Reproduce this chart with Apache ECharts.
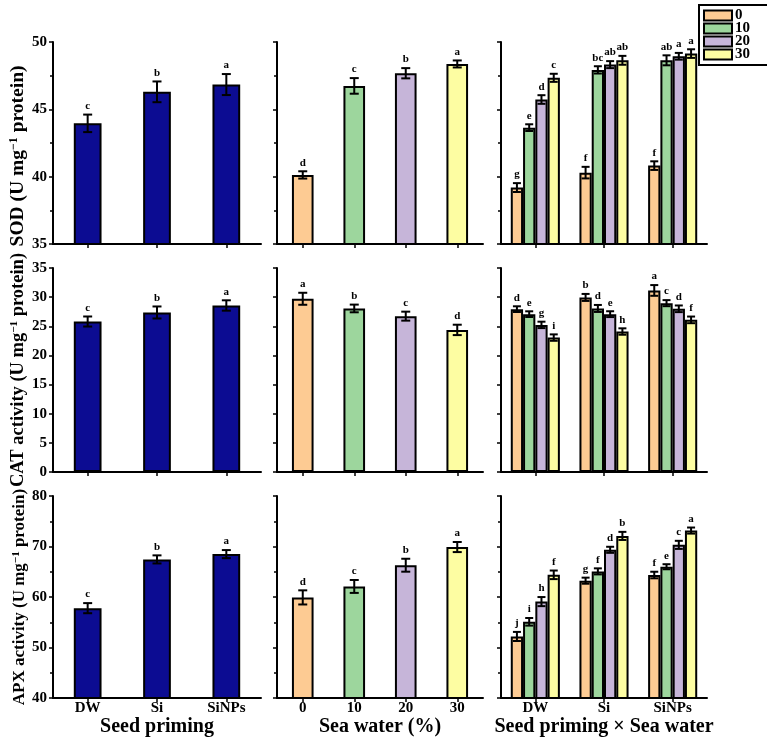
<!DOCTYPE html>
<html>
<head>
<meta charset="utf-8">
<script src="https://cdn.jsdelivr.net/npm/echarts@6/dist/echarts.min.js"></script>
<style>
  html, body { margin: 0; padding: 0; background: #fff; }
  #main { width: 767px; height: 738px; }
</style>
</head>
<body>
<div id="main"></div>
<script>
// 类别与刻度
const primingCats = ['DW', 'Si', 'SiNPs'];
const seaCats = ['0', '10', '20', '30'];

// SOD
const sodPriming = [43.96, 46.3, 46.84];
const sodPrimingErr = [0.65, 0.77, 0.78];
const sodPrimingLetters = ['c', 'b', 'a'];
const sodSea = [40.13, 46.74, 47.68, 48.37];
const sodSeaErr = [0.27, 0.58, 0.38, 0.26];
const sodSeaLetters = ['d', 'c', 'b', 'a'];
// 交互：每个海水浓度一组，依次为 DW, Si, SiNPs
const sodInter = [[39.19, 40.3, 40.82], [43.64, 47.93, 48.64], [45.73, 48.32, 48.94], [47.34, 48.64, 49.14]];
const sodInterErr = [[0.33, 0.43, 0.32], [0.25, 0.27, 0.37], [0.32, 0.26, 0.25], [0.3, 0.33, 0.32]];
const sodInterLetters = [['g', 'f', 'f'], ['e', 'bc', 'ab'], ['d', 'ab', 'a'], ['c', 'ab', 'a']];

// CAT
const catPriming = [25.82, 27.37, 28.57];
const catPrimingErr = [0.86, 1.03, 0.89];
const catPrimingLetters = ['c', 'b', 'a'];
const catSea = [29.72, 28.06, 26.74, 24.38];
const catSeaErr = [1.03, 0.66, 0.77, 0.89];
const catSeaLetters = ['a', 'b', 'c', 'd'];
const catInter = [[27.94, 29.95, 31.15], [27.08, 28.06, 28.97], [25.24, 27.08, 28.0], [23.06, 24.1, 26.1]];
const catInterErr = [[0.49, 0.6, 0.92], [0.49, 0.6, 0.52], [0.55, 0.5, 0.57], [0.55, 0.55, 0.57]];
const catInterLetters = [['d', 'b', 'a'], ['e', 'd', 'c'], ['g', 'e', 'd'], ['i', 'h', 'f']];

// APX
const apxPriming = [57.8, 67.45, 68.5];
const apxPrimingErr = [1.0, 0.8, 0.8];
const apxPrimingLetters = ['c', 'b', 'a'];
const apxSea = [59.93, 62.1, 66.3, 69.9];
const apxSeaErr = [1.4, 1.28, 1.28, 1.0];
const apxSeaLetters = ['d', 'c', 'b', 'a'];
const apxInter = [[52.2, 63.24, 64.36], [55.1, 65.08, 66.0], [59.1, 69.35, 70.33], [64.4, 72.1, 73.16]];
const apxInterErr = [[0.9, 0.6, 0.65], [0.75, 0.6, 0.5], [0.9, 0.6, 0.8], [0.85, 0.8, 0.6]];
const apxInterLetters = [['j', 'g', 'f'], ['i', 'f', 'e'], ['h', 'd', 'c'], ['f', 'b', 'a']];

// 坐标轴范围
const yMin = [35, 0, 40];
const yMax = [50, 35, 80];
const yStep = [5, 5, 10];
const yMinorSplit = [2, 0, 2];

const yNames = [
    'SOD (U mg{sup|−1} protein)',
    'CAT activity (U mg{sup|−1} protein)',
    'APX activity (U mg{sup|−1} protein)'
];
const xNames = ['Seed priming', 'Sea water (%)', 'Seed priming × Sea water'];

const FONT = '"Liberation Serif", "Times New Roman", serif';
const navy = '#0c0c92';
const seaColors = ['#fdcb93', '#9dd69d', '#c6b5d9', '#fdfda2'];

const colLeft = [53, 277, 501];
const colWidth = [208, 206, 206];
const rowTop = [42, 268, 496];
const rowHeight = [202, 204, 203];
const yNameSize = [19.5, 18.5, 17];

const chart = echarts.init(document.getElementById('main'));

const grids = [];
const xAxes = [];
const yAxes = [];
const series = [];

// 误差线 + 显著性字母
function errorSeries(idx, items, letters, nSlots, gapRatio, capHalf) {
    return {
        type: 'custom',
        xAxisIndex: idx,
        yAxisIndex: idx,
        z: 10,
        silent: true,
        data: items,
        renderItem: function (params, api) {
            const cat = api.value(0);
            const v = api.value(1);
            const e = api.value(2);
            const slot = api.value(3);
            const band = api.size([1, 0])[0];
            const bw = band * (1 - gapRatio) / nSlots;
            const off = (slot - (nSlots - 1) / 2) * bw;
            const top = api.coord([cat, v + e]);
            const bot = api.coord([cat, v - e]);
            const x = top[0] + off;
            const ls = { stroke: '#000', lineWidth: 2 };
            return {
                type: 'group',
                children: [
                    { type: 'line', shape: { x1: x, y1: top[1], x2: x, y2: bot[1] }, style: ls },
                    { type: 'line', shape: { x1: x - capHalf, y1: top[1], x2: x + capHalf, y2: top[1] }, style: ls },
                    { type: 'line', shape: { x1: x - capHalf, y1: bot[1], x2: x + capHalf, y2: bot[1] }, style: ls },
                    {
                        type: 'text',
                        style: {
                            text: letters[params.dataIndex],
                            x: x,
                            y: top[1] - 3,
                            align: 'center',
                            verticalAlign: 'bottom',
                            font: 'bold 11px ' + FONT,
                            fill: '#000'
                        }
                    }
                ]
            };
        }
    };
}

const priming = [sodPriming, catPriming, apxPriming];
const primingErr = [sodPrimingErr, catPrimingErr, apxPrimingErr];
const primingLetters = [sodPrimingLetters, catPrimingLetters, apxPrimingLetters];
const sea = [sodSea, catSea, apxSea];
const seaErr = [sodSeaErr, catSeaErr, apxSeaErr];
const seaLetters = [sodSeaLetters, catSeaLetters, apxSeaLetters];
const inter = [sodInter, catInter, apxInter];
const interErr = [sodInterErr, catInterErr, apxInterErr];
const interLetters = [sodInterLetters, catInterLetters, apxInterLetters];

for (let r = 0; r < 3; r++) {
    for (let c = 0; c < 3; c++) {
        const idx = r * 3 + c;
        grids.push({ left: colLeft[c], top: rowTop[r], width: colWidth[c], height: rowHeight[r] });

        xAxes.push({
            type: 'category',
            gridIndex: idx,
            data: c === 1 ? seaCats : primingCats,
            axisLine: { show: true, lineStyle: { color: '#000', width: 2 } },
            axisTick: { show: true, alignWithLabel: true, length: 4, lineStyle: { color: '#000', width: 1.5 } },
            axisLabel: {
                show: r === 2,
                color: '#000',
                fontFamily: FONT,
                fontWeight: 'bold',
                fontSize: 15,
                margin: 3
            },
            name: r === 2 ? xNames[c] : '',
            nameLocation: 'middle',
            nameGap: 18,
            nameTextStyle: { color: '#000', fontFamily: FONT, fontWeight: 'bold', fontSize: 20 },
            splitLine: { show: false }
        });

        yAxes.push({
            type: 'value',
            gridIndex: idx,
            min: yMin[r],
            max: yMax[r],
            interval: yStep[r],
            axisLine: { show: true, lineStyle: { color: '#000', width: 2 } },
            axisTick: { show: true, inside: false, length: 4, lineStyle: { color: '#000', width: 1.5 } },
            minorTick: {
                show: yMinorSplit[r] > 0,
                splitNumber: yMinorSplit[r] || 2,
                length: 3,
                lineStyle: { color: '#000', width: 1.5 }
            },
            splitLine: { show: false },
            axisLabel: {
                show: c === 0,
                color: '#000',
                fontFamily: FONT,
                fontWeight: 'bold',
                fontSize: 15,
                margin: 6
            },
            name: c === 0 ? yNames[r] : '',
            nameLocation: 'middle',
            nameGap: 25,
            nameRotate: 90,
            nameTextStyle: {
                color: '#000',
                fontFamily: FONT,
                fontWeight: 'bold',
                fontSize: yNameSize[r],
                padding: r === 0 ? [0, 26, 0, 0] : 0,
                rich: {
                    sup: {
                        color: '#000',
                        fontFamily: FONT,
                        fontWeight: 'bold',
                        fontSize: Math.round(yNameSize[r] * 0.62),
                        verticalAlign: 'top'
                    }
                }
            }
        });

        if (c === 0) {
            series.push({
                type: 'bar',
                xAxisIndex: idx,
                yAxisIndex: idx,
                barWidth: '40%',
                data: priming[r],
                itemStyle: { color: navy, borderColor: '#000', borderWidth: 2 }
            });
            series.push(errorSeries(
                idx,
                priming[r].map((v, i) => [i, v, primingErr[r][i], 0]),
                primingLetters[r], 1, 0.6, 4.5
            ));
        } else if (c === 1) {
            series.push({
                type: 'bar',
                xAxisIndex: idx,
                yAxisIndex: idx,
                barWidth: '42%',
                data: sea[r].map((v, i) => ({ value: v, itemStyle: { color: seaColors[i] } })),
                itemStyle: { borderColor: '#000', borderWidth: 2 }
            });
            series.push(errorSeries(
                idx,
                sea[r].map((v, i) => [i, v, seaErr[r][i], 0]),
                seaLetters[r], 1, 0.58, 4.5
            ));
        } else {
            const items = [];
            const letters = [];
            for (let k = 0; k < 4; k++) {
                series.push({
                    name: seaCats[k],
                    type: 'bar',
                    xAxisIndex: idx,
                    yAxisIndex: idx,
                    barGap: '0%',
                    barCategoryGap: '28.5%',
                    data: inter[r][k],
                    itemStyle: { color: seaColors[k], borderColor: '#000', borderWidth: 2 }
                });
                inter[r][k].forEach((v, i) => {
                    items.push([i, v, interErr[r][k][i], k]);
                    letters.push(interLetters[r][k][i]);
                });
            }
            series.push(errorSeries(idx, items, letters, 4, 0.285, 4));
        }
    }
}

const option = {
    animation: false,
    backgroundColor: '#fff',
    legend: {
        data: seaCats,
        orient: 'vertical',
        left: 699,
        top: 5,
        icon: 'rect',
        itemWidth: 28,
        itemHeight: 10,
        itemGap: -2,
        padding: [3, 30, 3, 4],
        borderColor: '#000',
        borderWidth: 2,
        textStyle: { color: '#000', fontFamily: FONT, fontWeight: 'bold', fontSize: 15, padding: [0, 0, 0, -2] }
    },
    grid: grids,
    xAxis: xAxes,
    yAxis: yAxes,
    series: series
};

chart.setOption(option);
</script>
</body>
</html>
